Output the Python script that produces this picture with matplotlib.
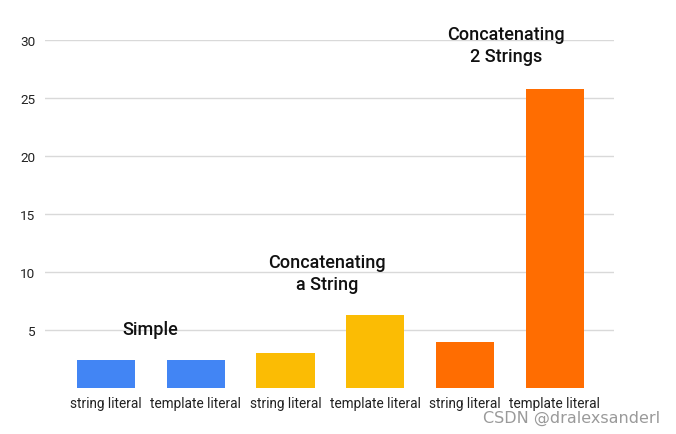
import matplotlib
matplotlib.use("Agg")
import matplotlib.pyplot as plt

categories = ["string literal", "template literal", "string literal",
              "template literal", "string literal", "template literal"]
values = [2.4, 2.4, 3.0, 6.3, 4.0, 25.8]
colors = ["#4285F4", "#4285F4", "#FBBC04", "#FBBC04", "#FF6D01", "#FF6D01"]
yticks = [5, 10, 15, 20, 25, 30]
groups = ["Simple", "Concatenating\na String", "Concatenating\n2 Strings"]
group_pos = [(0.49, 5.1), (2.46, 9.9), (4.46, 29.6)]

plt.rcParams['font.family'] = ['Roboto', 'DejaVu Sans']

W, H = 676, 435
fig = plt.figure(figsize=(W / 100, H / 100), dpi=100)
ax = fig.add_axes([45 / W, (H - 389) / H, (614 - 45) / W, (389 - 41) / H])

x = list(range(len(categories)))
ax.bar(x, values, width=0.65, color=colors, zorder=3)
ax.set_xlim(-0.68, 5.66)
ax.set_ylim(0, 30)
ax.set_yticks(yticks)
ax.set_yticklabels([str(v) for v in yticks], fontsize=9.7, color="#222222")
ax.set_xticks(x)
ax.set_xticklabels(categories, fontsize=9.8, color="#222222")
ax.tick_params(axis='both', length=0)
ax.tick_params(axis='y', pad=7)
ax.tick_params(axis='x', pad=6)
ax.grid(axis='y', color="#d9d9d9", linewidth=1, zorder=0)
for s in ax.spines.values():
    s.set_visible(False)

for label, (gx, gy) in zip(groups, group_pos):
    ax.text(gx, gy, label, ha='center', va='center', fontsize=13,
            fontweight='medium', color="#111111", linespacing=1.3,
            zorder=4, clip_on=False)

fig.text(660 / W, (H - 418) / H, "CSDN @dralexsanderl", ha='right', va='center',
         fontsize=11.5, color="#9a9a9a", family=['DejaVu Sans'])

fig.savefig("out.png", dpi=100)
